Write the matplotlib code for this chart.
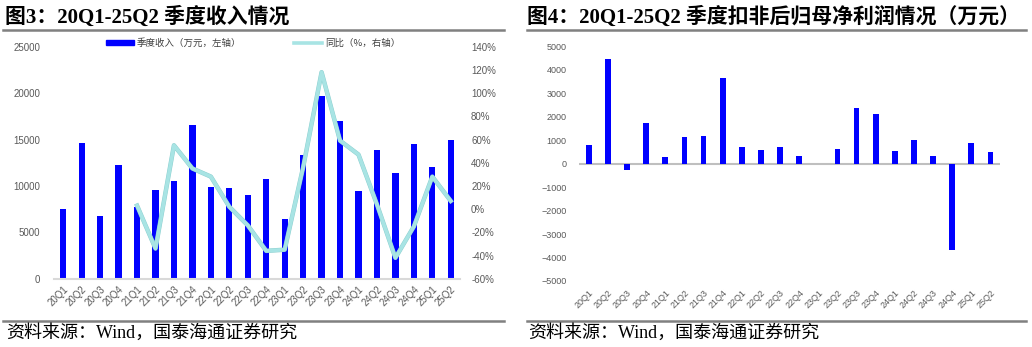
import numpy as np
import matplotlib
matplotlib.use('Agg')
import matplotlib.pyplot as plt
from matplotlib.lines import Line2D
from matplotlib.patches import Patch
import matplotlib.patheffects as pe

# 季度标签
quarters = ['20Q1', '20Q2', '20Q3', '20Q4', '21Q1', '21Q2', '21Q3', '21Q4',
            '22Q1', '22Q2', '22Q3', '22Q4', '23Q1', '23Q2', '23Q3', '23Q4',
            '24Q1', '24Q2', '24Q3', '24Q4', '25Q1', '25Q2']

# 图3：季度收入（万元）
revenue = [7550, 14600, 6800, 12300, 7750, 9600, 10550, 16600,
           9900, 9750, 9050, 10700, 6400, 13300, 19700, 17000,
           9400, 13850, 11400, 14500, 12000, 14900]
# 同比（%），从21Q1开始
yoy = [3, -34, 55, 35, 28, 2, -14, -36, -35, 36, 118, 59, 47, 4, -42, -15, 28, 7]

# 图4：扣非归母净利润（万元）
profit = [780, 4470, -270, 1720, 290, 1120, 1160, 3630,
          700, 580, 700, 340, 0, 640, 2350, 2100,
          550, 1020, 310, -3700, 900, 480]

BLUE = '#0000FF'
CYAN = '#A8E4E4'
GRAY = '#595959'
TICK_FONT = ['Liberation Sans', 'DejaVu Sans']
CJK = ['Noto Sans CJK SC', 'DejaVu Sans']
TITLE_FONT = ['Liberation Serif', 'Noto Sans CJK SC']

plt.rcParams['font.family'] = TICK_FONT

fig = plt.figure(figsize=(10.32, 3.47), dpi=100)
W, H = 1032, 347

def fx(px):
    return px / W

def fy(py):
    return 1 - py / H

# 标题与分隔线
fig.text(fx(5), fy(17), '图3：20Q1-25Q2 季度收入情况', fontsize=15, fontweight='bold',
         family=TITLE_FONT, va='center', ha='left')
fig.text(fx(527), fy(17), '图4：20Q1-25Q2 季度扣非后归母净利润情况（万元）', fontsize=15,
         fontweight='bold', family=TITLE_FONT, va='center', ha='left')
for x0, x1 in [(3, 504), (527, 1026)]:
    for yy in [30, 321]:
        fig.add_artist(Line2D([fx(x0), fx(x1)], [fy(yy), fy(yy)], color='#808080', lw=1.8))
fig.text(fx(6), fy(333), '资料来源：Wind，国泰海通证券研究', fontsize=13,
         family=TITLE_FONT, va='center', ha='left')
fig.text(fx(528), fy(333), '资料来源：Wind，国泰海通证券研究', fontsize=13,
         family=TITLE_FONT, va='center', ha='left')

x = np.arange(len(quarters))

# ---- 左图 ----
ax = fig.add_axes([fx(54), fy(278.7), fx(460 - 54), (278.7 - 46.7) / H])
ax.bar(x, revenue, width=0.34, color=BLUE, linewidth=0, zorder=2)
ax.set_xlim(-0.5, len(quarters) - 0.5)
ax.set_ylim(0, 25000)
ax.set_yticks(range(0, 25001, 5000))
ax.set_xticks(x)
ax.set_xticklabels(quarters, rotation=45, ha='right', rotation_mode='anchor')
for s in ['top', 'right', 'left']:
    ax.spines[s].set_visible(False)
ax.spines['bottom'].set_color('#D9D9D9')
ax.spines['bottom'].set_linewidth(1.5)
ax.tick_params(axis='both', length=0, colors=GRAY)
ax.tick_params(axis='y', labelsize=7, pad=10)
ax.tick_params(axis='x', labelsize=7, pad=4)

ax2 = ax.twinx()
ax2.plot(x[4:], yoy, color=CYAN, lw=2.6, zorder=3,
         path_effects=[pe.Stroke(linewidth=3.2, foreground='#8CCFCF'), pe.Normal()])
ax2.set_ylim(-60, 140)
ax2.set_yticks(range(-60, 141, 20))
ax2.set_yticklabels([f'{v}%' for v in range(-60, 141, 20)])
for s in ax2.spines.values():
    s.set_visible(False)
ax2.tick_params(axis='y', length=0, colors=GRAY, labelsize=7, pad=8)

handles = [Patch(facecolor=BLUE, edgecolor=BLUE), Line2D([], [], color=CYAN, lw=2.6)]
leg = ax.legend(handles, ['季度收入（万元，左轴）', '同比（%，右轴）'], loc='center',
                bbox_to_anchor=(0.49, 1.015), ncol=2, frameon=False, handlelength=3.0,
                handleheight=0.5, columnspacing=5.5, handletextpad=0.3,
                prop={'family': CJK, 'size': 6.8})
for t in leg.get_texts():
    t.set_color('#404040')

# ---- 右图 ----
bx = fig.add_axes([fx(579.3), fy(281), fx(1000 - 579.3), (281 - 46.3) / H])
bx.bar(x, profit, width=0.3, color=BLUE, linewidth=0, zorder=2)
bx.axhline(0, color='#BFBFBF', lw=1.5, zorder=1)
bx.set_xlim(-0.5, len(quarters) - 0.5)
bx.set_ylim(-5000, 5000)
bx.set_yticks(range(-5000, 5001, 1000))
bx.set_xticks(x)
bx.set_xticklabels(quarters, rotation=45, ha='right', rotation_mode='anchor')
for s in bx.spines.values():
    s.set_visible(False)
bx.tick_params(axis='both', length=0, colors=GRAY)
bx.tick_params(axis='y', labelsize=6.5, pad=9)
bx.tick_params(axis='x', labelsize=6.5, pad=5)

fig.savefig('out.png', dpi=100)
